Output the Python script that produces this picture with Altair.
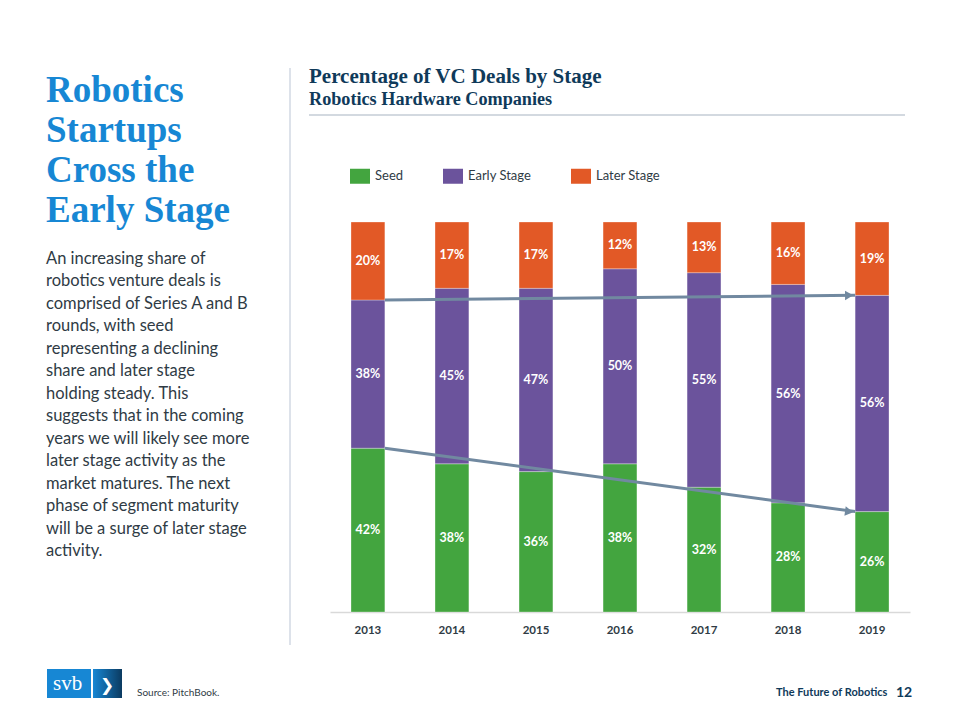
import math
import altair as alt
import pandas as pd

# ---------------- data ----------------
years = ["2013", "2014", "2015", "2016", "2017", "2018", "2019"]
stages = ["Seed", "Early Stage", "Later Stage"]
seed = [42, 38, 36, 38, 32, 28, 26]
early = [38, 45, 47, 50, 55, 56, 56]
later = [20, 17, 17, 12, 13, 16, 19]
stage_colors = ["#43a53f", "#6b539c", "#e25926"]

heading_lines = ["Robotics", "Startups", "Cross the", "Early Stage"]
body_lines = [
    "An increasing share of",
    "robotics venture deals is",
    "comprised of Series A and B",
    "rounds, with seed",
    "representing a declining",
    "share and later stage",
    "holding steady. This",
    "suggests that in the coming",
    "years we will likely see more",
    "later stage activity as the",
    "market matures. The next",
    "phase of segment maturity",
    "will be a surge of later stage",
    "activity.",
]
chart_title = "Percentage of VC Deals by Stage"
chart_subtitle = "Robotics Hardware Companies"
source_text = "Source: PitchBook."
footer_text = "The Future of Robotics"
page_number = "12"

# ---------------- layout ----------------
W, H = 580, 390            # plot area
OX, OY = 330, 222          # plot origin on the page
NAVY = "#0f3a5a"
TEXT = "#2f3b45"
BLUE = "#1787d4"
ARROW = "#7189a0"

rows = []
for i, yr in enumerate(years):
    vals = [seed[i], early[i], later[i]]
    tot = sum(vals)
    cum = 0
    for k, (s, v) in enumerate(zip(stages, vals)):
        start = cum / tot
        cum += v
        end = cum / tot
        rows.append(dict(year=yr, stage=s, value=v, start=start, end=end,
                         mid=(start + end) / 2, label=f"{v}%", order=k))
df = pd.DataFrame(rows)


def boundary(year, upto_stage):
    r = df[(df.year == year) & (df.stage == upto_stage)].iloc[0]
    return r.end


arrows = pd.DataFrame({
    "x1": [years[0], years[0]],
    "x2": [years[-1], years[-1]],
    "y1": [boundary(years[0], "Early Stage"), boundary(years[0], "Seed")],
    "y2": [boundary(years[-1], "Early Stage"), boundary(years[-1], "Seed")],
})
arrows["angle"] = [
    (math.degrees(math.atan2((a - b) * H, 468)) + 360) % 360
    for a, b in zip(arrows.y1, arrows.y2)
]

xscale = alt.Scale(domain=years, paddingInner=0.597, paddingOuter=0.25)
yscale = alt.Scale(domain=[0, 1])

rect_path = "M-1,-0.75H1V0.75H-1Z"

bars = alt.Chart(df).mark_bar(stroke="white", strokeWidth=0.6, strokeOpacity=0.5).encode(
    x=alt.X("year:N", scale=xscale, sort=years,
            axis=alt.Axis(title=None, labelAngle=0, labelFont="Lato",
                          labelFontWeight="bold", labelFontSize=11.5,
                          labelColor=TEXT, ticks=False, domainColor="#d9d9d9",
                          domainWidth=1.5, labelPadding=12)),
    y=alt.Y("start:Q", scale=yscale, axis=None),
    y2="end:Q",
    color=alt.Color("stage:N", scale=alt.Scale(domain=stages, range=stage_colors),
                    legend=alt.Legend(title=None, orient="none", direction="horizontal",
                                      legendX=20, legendY=-56, padding=0,
                                      symbolType=rect_path, symbolSize=400,
                                      symbolStrokeWidth=0, symbolOpacity=1,
                                      labelFont="Lato", labelFontSize=13,
                                      labelColor=TEXT, labelOffset=5,
                                      columnPadding=39)),
    order=alt.Order("order:Q"),
)

labels = alt.Chart(df).mark_text(color="white", font="Lato", fontWeight="bold",
                                 fontSize=12.5).encode(
    x=alt.X("year:N", sort=years),
    y=alt.Y("mid:Q"),
    text="label:N",
)

arrow_lines = alt.Chart(arrows).mark_rule(color=ARROW, strokeWidth=3).encode(
    x=alt.X("x1:N", bandPosition=1),
    x2=alt.X2("x2:N", bandPosition=0),
    y=alt.Y("y1:Q"),
    y2="y2:Q",
)
arrow_heads = alt.Chart(arrows).mark_point(shape="triangle-right", filled=True,
                                           color=ARROW, size=90, opacity=1,
                                           xOffset=-6).encode(
    x=alt.X("x2:N", bandPosition=0),
    y=alt.Y("y2:Q"),
    angle=alt.Angle("angle:Q", scale=None),
)

one = pd.DataFrame({"_": [0]})


def text_at(lines, x, y, **kw):
    return alt.Chart(one).mark_text(text=lines, align="left", baseline="alphabetic",
                                    **kw).encode(x=alt.value(x - OX), y=alt.value(y - OY))


def vrule(x, y1, y2, **kw):
    return alt.Chart(one).mark_rule(**kw).encode(
        x=alt.value(x - OX), y=alt.value(y1 - OY), y2=alt.value(y2 - OY))


def hrule(x1, x2, y, **kw):
    return alt.Chart(one).mark_rule(**kw).encode(
        x=alt.value(x1 - OX), x2=alt.value(x2 - OX), y=alt.value(y - OY))


def box(x1, x2, y1, y2, **kw):
    return alt.Chart(one).mark_rect(**kw).encode(
        x=alt.value(x1 - OX), x2=alt.value(x2 - OX),
        y=alt.value(y1 - OY), y2=alt.value(y2 - OY))


grad = alt.LinearGradient(gradient="linear", x1=0, x2=1, y1=0, y2=0,
                          stops=[alt.GradientStop(color="#1787d4", offset=0),
                                 alt.GradientStop(color="#0b3a60", offset=1)])

decor = [
    vrule(290, 68, 645, color="#dde2ea", strokeWidth=2),
    hrule(309, 905, 115, color="#c5ccd6", strokeWidth=1.5),
    text_at(chart_title, 309, 83, font="Liberation Serif", fontWeight="bold",
            fontSize=21, color=NAVY),
    text_at(chart_subtitle, 309, 105, font="Liberation Serif", fontWeight="bold",
            fontSize=18.2, color=NAVY),
    text_at(heading_lines, 46, 102, font="Liberation Serif", fontWeight="bold",
            fontSize=37, lineHeight=40, color=BLUE),
    text_at(body_lines, 46, 264, font="Lato", fontSize=16.5, lineHeight=22.46,
            color=TEXT),
    box(47, 91, 669, 698, color="#1787d4"),
    box(93, 122, 669, 698, color=grad),
    text_at("svb", 53, 690, font="Liberation Serif", fontSize=21, color="white"),
    text_at("❯", 100, 691, font="DejaVu Sans", fontWeight="bold", fontSize=17,
            color="white"),
    text_at(source_text, 137, 696, font="Lato", fontSize=10, color=TEXT),
    text_at(footer_text, 776, 696, font="Lato", fontWeight="bold", fontSize=11,
            color=NAVY),
    text_at(page_number, 896, 697, font="Lato", fontWeight="bold", fontSize=14,
            color=NAVY),
]

chart = alt.layer(bars, labels, arrow_lines, arrow_heads, *decor).properties(
    width=W, height=H,
    autosize=alt.AutoSizeParams(type="none"),
    padding={"left": OX - 8, "top": OY - 8, "right": 960 - 16 - (OX - 8) - W,
             "bottom": 720 - 16 - (OY - 8) - H},
    background="white",
).configure_view(stroke=None)

chart.save("out.html", embed_options={"renderer": "svg", "actions": False})
